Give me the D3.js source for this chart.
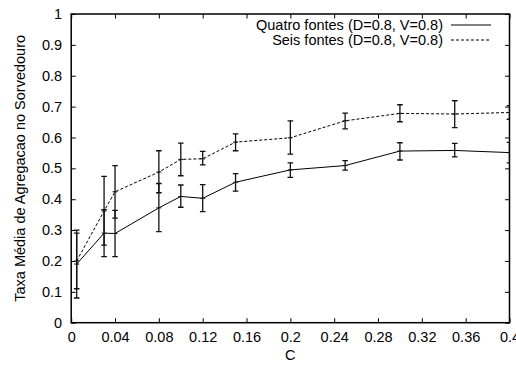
<!DOCTYPE html>
<html>
<head>
<meta charset="utf-8">
<script src="https://cdn.jsdelivr.net/npm/d3@7"></script>
<style>
  html, body { margin: 0; padding: 0; background: #fff; }
  svg { display: block; }
  text { font-family: "Liberation Sans", Arial, Helvetica, sans-serif; font-size: 14.5px; fill: #000; }
</style>
</head>
<body>
<svg id="chart" width="516" height="366"></svg>
<script>
// ---- data ----
const xValues = [0.005, 0.03, 0.04, 0.08, 0.1, 0.12, 0.15, 0.2, 0.25, 0.3, 0.35, 0.4];

const quatroY    = [0.19, 0.290, 0.289, 0.372, 0.409, 0.403, 0.455, 0.495, 0.509, 0.556, 0.558, 0.551];
const quatroLow  = [0.08, 0.214, 0.214, 0.295, 0.374, 0.360, 0.426, 0.471, 0.494, 0.527, 0.537, 0.518];
const quatroHigh = [0.29, 0.366, 0.364, 0.451, 0.446, 0.447, 0.483, 0.518, 0.525, 0.583, 0.581, 0.584];

const seisY    = [0.20, 0.362, 0.424, 0.488, 0.529, 0.531, 0.585, 0.599, 0.654, 0.678, 0.676, 0.681];
const seisLow  = [0.11, 0.251, 0.339, 0.421, 0.476, 0.511, 0.557, 0.546, 0.628, 0.651, 0.632, 0.659];
const seisHigh = [0.30, 0.474, 0.509, 0.557, 0.582, 0.555, 0.612, 0.654, 0.679, 0.706, 0.719, 0.703];

const xTicks = [0, 0.04, 0.08, 0.12, 0.16, 0.2, 0.24, 0.28, 0.32, 0.36, 0.4];
const xTickLabels = ["0", "0.04", "0.08", "0.12", "0.16", "0.2", "0.24", "0.28", "0.32", "0.36", "0.4"];
const yTicks = [0, 0.1, 0.2, 0.3, 0.4, 0.5, 0.6, 0.7, 0.8, 0.9, 1];
const yTickLabels = ["0", "0.1", "0.2", "0.3", "0.4", "0.5", "0.6", "0.7", "0.8", "0.9", "1"];

const seriesNames = ["Quatro fontes (D=0.8, V=0.8)", "Seis fontes (D=0.8, V=0.8)"];
const xLabel = "C";
const yLabel = "Taxa Média de Agregacao no Sorvedouro";

// ---- layout ----
const pLeft = 71.2, pRight = 509.5, pTop = 14, pBottom = 322.7;
const svg = d3.select("#chart");
const x = d3.scaleLinear().domain([0, 0.4]).range([pLeft, pRight]);
const y = d3.scaleLinear().domain([0, 1]).range([pBottom, pTop]);
const tickLen = 4.5;

// clip
svg.append("defs").append("clipPath").attr("id", "clip")
  .append("rect").attr("x", pLeft).attr("y", pTop).attr("width", pRight - pLeft).attr("height", pBottom - pTop);

// axes (ticks inward, mirrored)
const gx = svg.append("g").attr("transform", `translate(0,${pBottom})`)
  .call(d3.axisBottom(x).tickValues(xTicks).tickFormat((d, i) => xTickLabels[i]).tickSizeInner(-tickLen).tickSizeOuter(0).tickPadding(10));
const gxTop = svg.append("g").attr("transform", `translate(0,${pTop})`)
  .call(d3.axisTop(x).tickValues(xTicks).tickFormat("").tickSizeInner(-tickLen).tickSizeOuter(0));
const gy = svg.append("g").attr("transform", `translate(${pLeft},0)`)
  .call(d3.axisLeft(y).tickValues(yTicks).tickFormat((d, i) => yTickLabels[i]).tickSizeInner(-tickLen).tickSizeOuter(0).tickPadding(9));
const gyRight = svg.append("g").attr("transform", `translate(${pRight},0)`)
  .call(d3.axisRight(y).tickValues(yTicks).tickFormat("").tickSizeInner(-tickLen).tickSizeOuter(0));

[gx, gxTop, gy, gyRight].forEach(g => {
  g.select(".domain").remove();
  g.selectAll(".tick line").attr("stroke", "#000").attr("stroke-width", 1);
  g.selectAll(".tick text").attr("font-size", null).attr("font-family", null).attr("fill", "#000");
});
gx.selectAll(".tick text").attr("dy", null).attr("y", 19);

// border
svg.append("rect").attr("x", pLeft).attr("y", pTop).attr("width", pRight - pLeft).attr("height", pBottom - pTop)
  .attr("fill", "none").attr("stroke", "#000").attr("stroke-width", 1.5);

// axis labels
svg.append("text").attr("x", x(0.2)).attr("y", 360).attr("text-anchor", "middle").text(xLabel);
svg.append("text").attr("transform", `translate(25,${(pTop + pBottom) / 2}) rotate(-90)`)
  .attr("text-anchor", "middle").text(yLabel);

// series
const series = [
  { name: seriesNames[0], ys: quatroY, lo: quatroLow, hi: quatroHigh, dash: null },
  { name: seriesNames[1], ys: seisY, lo: seisLow, hi: seisHigh, dash: "3,2" }
];
const plot = svg.append("g").attr("clip-path", "url(#clip)");
const line = d3.line().x(d => x(d[0])).y(d => y(d[1]));
const capW = 2.8;

series.forEach(s => {
  const pts = xValues.map((xv, i) => [xv, s.ys[i], s.lo[i], s.hi[i]]);
  plot.append("path").datum(pts).attr("d", line)
    .attr("fill", "none").attr("stroke", "#000").attr("stroke-width", 1)
    .attr("stroke-dasharray", s.dash);
  const eb = plot.append("g").attr("stroke", "#111").attr("stroke-width", 1.3);
  pts.forEach(p => {
    const cx = x(p[0]);
    eb.append("line").attr("x1", cx).attr("x2", cx).attr("y1", y(p[2])).attr("y2", y(p[3]));
    eb.append("line").attr("x1", cx - capW).attr("x2", cx + capW).attr("y1", y(p[2])).attr("y2", y(p[2]));
    eb.append("line").attr("x1", cx - capW).attr("x2", cx + capW).attr("y1", y(p[3])).attr("y2", y(p[3]));
    eb.append("line").attr("x1", cx - 2.5).attr("x2", cx + 2.5).attr("y1", y(p[1])).attr("y2", y(p[1])).attr("stroke-width", 1);
  });
});

// legend
const legend = svg.append("g");
series.forEach((s, i) => {
  const ly = 25 + i * 15;
  legend.append("text").attr("x", 443).attr("y", ly + 5).attr("text-anchor", "end").text(s.name);
  legend.append("line").attr("x1", 451).attr("x2", 491).attr("y1", ly).attr("y2", ly)
    .attr("stroke", "#000").attr("stroke-width", 1).attr("stroke-dasharray", s.dash);
});
</script>
</body>
</html>
